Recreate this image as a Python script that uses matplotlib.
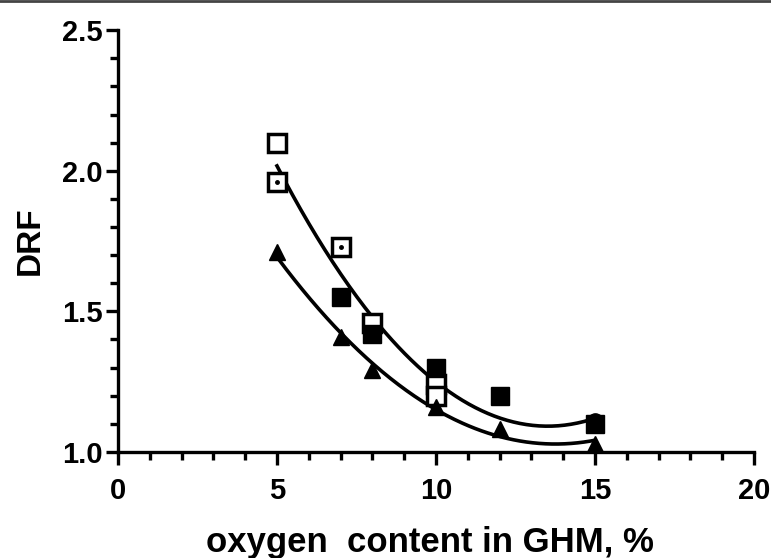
import numpy as np
import matplotlib.pyplot as plt
from matplotlib.ticker import MultipleLocator
from matplotlib.lines import Line2D

plt.rcParams["font.family"] = ["Liberation Sans", "DejaVu Sans"]
plt.rcParams["font.weight"] = "bold"

# open squares with centre dot
dot_x = [5, 7]
dot_y = [1.96, 1.73]
# open squares
open_x = [5, 8, 10, 10]
open_y = [2.10, 1.46, 1.24, 1.20]
# filled squares
fill_x = [7, 8, 10, 12, 15]
fill_y = [1.55, 1.42, 1.30, 1.20, 1.10]
# filled circle
circ_x = [15]
circ_y = [1.11]
# filled triangles
tri_x = [5, 7, 8, 10, 12, 15]
tri_y = [1.71, 1.41, 1.29, 1.16, 1.08, 1.03]

fig = plt.figure(figsize=(7.71, 5.58), dpi=100)
ax = fig.add_axes([0.153, 0.190, 0.825, 0.756])

# second-order fits
sq_x = np.array(dot_x + open_x + fill_x + circ_x)
sq_y = np.array(dot_y + open_y + fill_y + circ_y)
xs = np.linspace(5, 15, 200)
p_sq = np.polyfit(sq_x, sq_y, 2)
p_tri = np.polyfit(tri_x, tri_y, 2)
ax.plot(xs, np.polyval(p_sq, xs), color="black", lw=2.6, zorder=2)
ax.plot(xs, np.polyval(p_tri, xs), color="black", lw=2.6, zorder=2)

ax.plot(open_x, open_y, "s", ms=12.5, mfc="white", mec="black", mew=2.5,
        ls="none", zorder=3)
ax.plot(dot_x, dot_y, "s", ms=12.5, mfc="white", mec="black", mew=2.5,
        ls="none", zorder=3)
ax.plot(dot_x, dot_y, "o", ms=2.5, color="black", ls="none", zorder=4)
ax.plot(fill_x, fill_y, "s", ms=12.5, color="black", ls="none", zorder=3)
ax.plot(circ_x, circ_y, "o", ms=11, color="black", ls="none", zorder=3)
ax.plot(tri_x, tri_y, "^", ms=11, color="black", ls="none", zorder=3)

ax.set_xlim(0, 20)
ax.set_ylim(1.0, 2.5)
ax.xaxis.set_minor_locator(MultipleLocator(1))
ax.yaxis.set_minor_locator(MultipleLocator(0.1))
ax.set_xticks([0, 5, 10, 15, 20])
ax.set_xticklabels(["0", "5", "10", "15", "20"])
ax.set_yticks([1.0, 1.5, 2.0, 2.5])
ax.set_yticklabels(["1.0", "1.5", "2.0", "2.5"])

for s in ["top", "right"]:
    ax.spines[s].set_visible(False)
for s in ["left", "bottom"]:
    ax.spines[s].set_linewidth(2.4)
ax.tick_params(which="major", direction="out", length=9, width=2.4,
               labelsize=21)
ax.tick_params(axis="x", which="major", pad=9)
ax.tick_params(axis="y", which="major", pad=2)
ax.tick_params(which="minor", direction="out", length=5.5, width=2.4)

ax.set_ylabel("DRF", fontsize=24, fontweight="bold", labelpad=12)
fig.text(0.557, 0.027, "oxygen  content in GHM, %", fontsize=25,
         fontweight="bold", ha="center", va="center")

fig.add_artist(Line2D([0, 1], [0.998, 0.998], color="#444444", lw=2))

fig.savefig("out.png", dpi=100)
